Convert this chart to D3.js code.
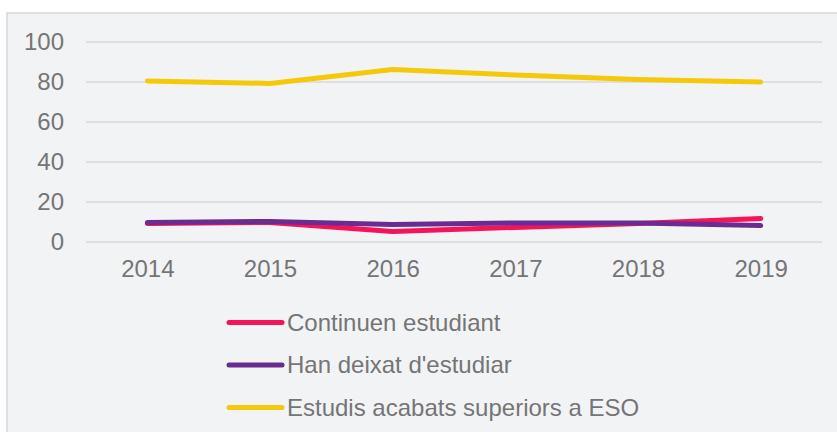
<!DOCTYPE html>
<html>
<head>
<meta charset="utf-8">
<script src="https://cdn.jsdelivr.net/npm/d3@7"></script>
<style>
  body { margin: 0; background: #fff; }
  svg { display: block; font-family: "Liberation Sans", Arial, sans-serif; }
</style>
</head>
<body>
<svg id="chart" width="837" height="432"></svg>
<script>
// data
const years = ["2014", "2015", "2016", "2017", "2018", "2019"];
const continuen = [9.2, 9.8, 5.3, 7.3, 9.3, 11.7];
const hanDeixat = [9.8, 10.3, 8.8, 9.5, 9.5, 8.2];
const estudisAcabats = [80.5, 79.3, 86.3, 83.5, 81.3, 80.0];
const seriesNames = ["Continuen estudiant", "Han deixat d'estudiar", "Estudis acabats superiors a ESO"];
const seriesColors = ["#f5145a", "#6a2c91", "#f5c90a"];
const yTicks = [0, 20, 40, 60, 80, 100];

const series = [continuen, hanDeixat, estudisAcabats].map((vals, i) => ({
    name: seriesNames[i], color: seriesColors[i], values: vals
}));

const svg = d3.select("#chart");
const textColor = "#757575";
const fontSize = 24;

// chart frame
svg.append("rect")
    .attr("x", 7).attr("y", 13)
    .attr("width", 840).attr("height", 430)
    .attr("fill", "#f2f3f5")
    .attr("stroke", "#d9d9d9")
    .attr("stroke-width", 1.5);

const x = d3.scalePoint().domain(years).range([86, 822]).padding(0.5);
const y = d3.scaleLinear().domain([0, 100]).range([242, 42]);

// gridlines
svg.append("g")
    .selectAll("line")
    .data(yTicks)
    .join("line")
    .attr("x1", 86).attr("x2", 822)
    .attr("y1", d => y(d)).attr("y2", d => y(d))
    .attr("stroke", "#d9d9d9")
    .attr("stroke-width", 1.5);

// y axis labels
const yAxis = svg.append("g")
    .attr("transform", "translate(64,0)")
    .call(d3.axisLeft(y).tickValues(yTicks).tickSize(0).tickPadding(0));
yAxis.select(".domain").remove();
yAxis.selectAll("text")
    .attr("fill", textColor)
    .attr("font-size", fontSize)
    .attr("font-family", "Liberation Sans, Arial, sans-serif");

// x axis labels
const xAxis = svg.append("g")
    .attr("transform", "translate(0,260)")
    .call(d3.axisBottom(x).tickSize(0).tickPadding(0));
xAxis.select(".domain").remove();
xAxis.selectAll("text")
    .attr("fill", textColor)
    .attr("font-size", fontSize)
    .attr("font-family", "Liberation Sans, Arial, sans-serif");

// lines
const line = d3.line()
    .x((d, i) => x(years[i]))
    .y(d => y(d));

svg.append("g")
    .selectAll("path")
    .data(series)
    .join("path")
    .attr("d", d => line(d.values))
    .attr("fill", "none")
    .attr("stroke", d => d.color)
    .attr("stroke-width", 5)
    .attr("stroke-linecap", "round")
    .attr("stroke-linejoin", "round");

// legend
const legend = svg.append("g")
    .selectAll("g")
    .data(series)
    .join("g")
    .attr("transform", (d, i) => "translate(229," + (322.5 + i * 42.5) + ")");

legend.append("line")
    .attr("x1", 0).attr("x2", 53)
    .attr("stroke", d => d.color)
    .attr("stroke-width", 5)
    .attr("stroke-linecap", "round");

legend.append("text")
    .attr("x", 58)
    .attr("dy", "0.35em")
    .attr("fill", textColor)
    .attr("font-size", fontSize)
    .text(d => d.name);
</script>
</body>
</html>
